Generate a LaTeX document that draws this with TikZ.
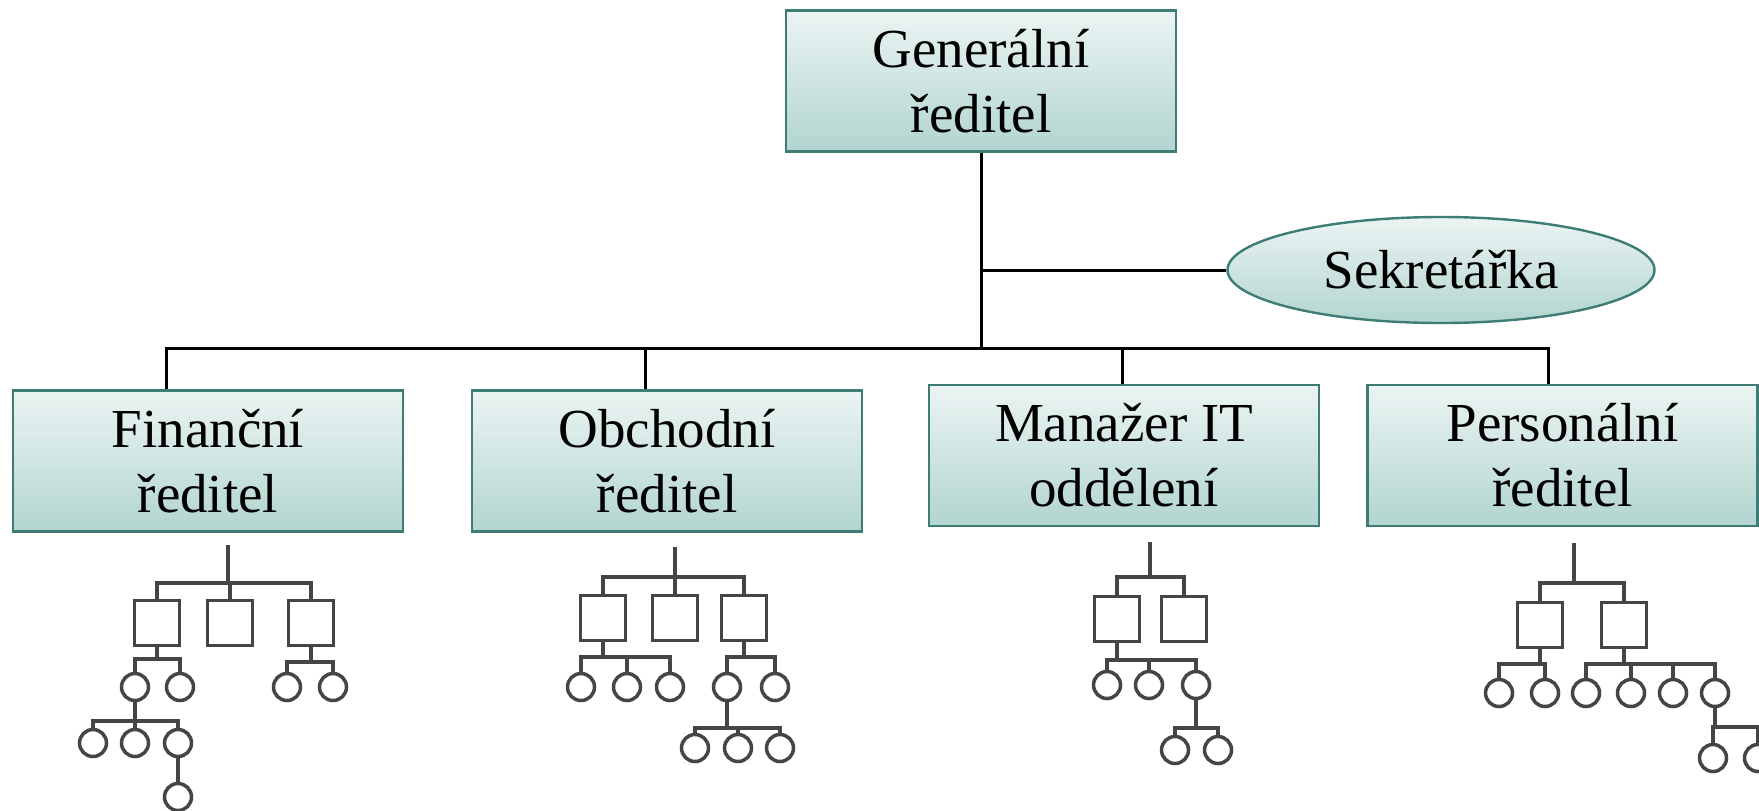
\documentclass[tikz,border=0pt]{standalone}
\usepackage{fontspec}
\setmainfont{Liberation Serif}
\usetikzlibrary{shapes.geometric,calc}
\definecolor{boxtop}{HTML}{EBF4F3}
\definecolor{boxbot}{HTML}{B2D5CF}
\definecolor{boxline}{HTML}{3D7D75}
\definecolor{treegray}{HTML}{454545}
\newcommand\tfam[4]{%
  \draw[tl] (#1) -- (#1 |- 0,#2);
  \draw[tl] (#3.north) -- (#3.north |- 0,#2) -- (#4.north |- 0,#2) -- (#4.north);}
\newcommand\tdrop[2]{\draw[tl] (#1.north) -- (#1.north |- 0,#2);}
\begin{document}
\begin{tikzpicture}[x=0.5pt,y=-0.5pt,
  orgbox/.style={draw=boxline, line width=1.2pt, top color=boxtop, bottom color=boxbot,
    rectangle, minimum width=195pt, minimum height=70.5pt, inner sep=0pt, align=center,
    font=\fontsize{27.5}{32.5}\selectfont},
  orgell/.style={draw=boxline, line width=1.2pt, top color=boxtop, bottom color=boxbot,
    ellipse, minimum width=213.5pt, minimum height=53pt, inner sep=0pt,
    font=\fontsize{27.5}{32.5}\selectfont},
  conn/.style={draw=black, line width=1.5pt},
  tl/.style={draw=treegray, line width=1.75pt},
  sq/.style={draw=treegray, line width=1.75pt, fill=white, rectangle, minimum size=22.5pt, inner sep=0pt},
  circ/.style={draw=treegray, line width=1.75pt, fill=white, circle, minimum size=13.5pt, inner sep=0pt}]
\useasboundingbox (0,0) rectangle (1759,810);
\clip (0,0) rectangle (1759,810);
\fill[white] (0,0) rectangle (1759,810);

% main chart
\node[orgbox] (gen) at (981,81) {Generální\\ředitel};
\node[orgell] (sek) at (1441,270) {Sekretářka};
\node[orgbox] (fin) at (208,461) {Finanční\\ředitel};
\node[orgbox] (obc) at (667,461) {Obchodní\\ředitel};
\node[orgbox] (man) at (1124,455.5) {Manažer IT\\oddělení};
\node[orgbox] (per) at (1562.5,455.5) {Personální\\ředitel};

\coordinate (j1) at (166,348);
\coordinate (j2) at (645,348);
\coordinate (j3) at (1122,348);
\coordinate (j4) at (1548,348);

\draw[conn] (gen.south) -- (gen.south |- j1);
\draw[conn] (gen.south |- sek.west) -- (sek.west);
\draw[conn, line cap=rect] (j1) -- (j4);
\draw[conn] (j1) -- (j1 |- fin.north);
\draw[conn] (j2) -- (j2 |- obc.north);
\draw[conn] (j3) -- (j3 |- man.north);
\draw[conn] (j4) -- (j4 |- per.north);

% tree 1
\coordinate (t1top) at (228,545);
\node[sq] (t1s1) at (157,623) {};
\node[sq] (t1s2) at (230,623) {};
\node[sq] (t1s3) at (311,623) {};
\node[circ] (t1a) at (135,687) {};
\node[circ] (t1b) at (180,687) {};
\node[circ] (t1c) at (93,743) {};
\node[circ] (t1d) at (135,743) {};
\node[circ] (t1e) at (178,743) {};
\node[circ] (t1f) at (178,797) {};
\node[circ] (t1g) at (287,687) {};
\node[circ] (t1h) at (333,687) {};
\tfam{t1top}{583}{t1s1}{t1s3}
\tdrop{t1s2}{583}
\tfam{t1s1.south}{659}{t1a}{t1b}
\tfam{t1a.south}{721}{t1c}{t1e}
\tdrop{t1d}{721}
\draw[tl] (t1e.south) -- (t1f.north);
\tfam{t1s3.south}{662}{t1g}{t1h}

% tree 2
\coordinate (t2top) at (675,547);
\node[sq] (t2s1) at (603,618) {};
\node[sq] (t2s2) at (675,618) {};
\node[sq] (t2s3) at (744,618) {};
\node[circ] (t2a) at (581,687) {};
\node[circ] (t2b) at (627,687) {};
\node[circ] (t2c) at (670,687) {};
\node[circ] (t2d) at (727,687) {};
\node[circ] (t2e) at (775,687) {};
\node[circ] (t2f) at (695,748) {};
\node[circ] (t2g) at (738,748) {};
\node[circ] (t2h) at (780,748) {};
\tfam{t2top}{577}{t2s1}{t2s3}
\tdrop{t2s2}{577}
\tfam{t2s1.south}{657}{t2a}{t2c}
\tdrop{t2b}{657}
\tfam{t2s3.south}{657}{t2d}{t2e}
\tfam{t2d.south}{728}{t2f}{t2h}
\tdrop{t2g}{728}

% tree 3
\coordinate (t3top) at (1150,542);
\node[sq] (t3s1) at (1117,619) {};
\node[sq] (t3s2) at (1184,619) {};
\node[circ] (t3a) at (1107,685) {};
\node[circ] (t3b) at (1149,685) {};
\node[circ] (t3c) at (1196,685) {};
\node[circ] (t3d) at (1175,750) {};
\node[circ] (t3e) at (1218,750) {};
\tfam{t3top}{577}{t3s1}{t3s2}
\tfam{t3s1.south}{660}{t3a}{t3c}
\tdrop{t3b}{660}
\tfam{t3c.south}{728}{t3d}{t3e}

% tree 4
\coordinate (t4top) at (1574,543);
\node[sq] (t4s1) at (1540,625) {};
\node[sq] (t4s2) at (1624,625) {};
\node[circ] (t4a) at (1499,693) {};
\node[circ] (t4b) at (1545,693) {};
\node[circ] (t4c) at (1586,693) {};
\node[circ] (t4d) at (1631,693) {};
\node[circ] (t4e) at (1673,693) {};
\node[circ] (t4f) at (1715,693) {};
\node[circ] (t4g) at (1713,758) {};
\node[circ] (t4h) at (1758,758) {};
\tfam{t4top}{583}{t4s1}{t4s2}
\tfam{t4s1.south}{664}{t4a}{t4b}
\tfam{t4s2.south}{664}{t4c}{t4f}
\tdrop{t4d}{664}
\tdrop{t4e}{664}
\tfam{t4f.south}{727}{t4g}{t4h}
\end{tikzpicture}
\end{document}
